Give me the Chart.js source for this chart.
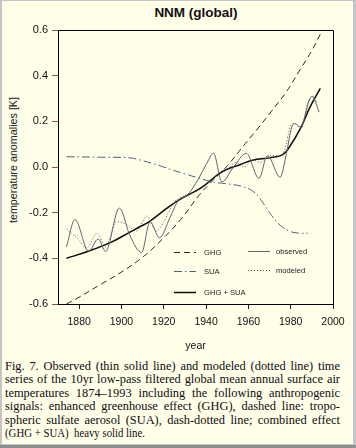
<!DOCTYPE html>
<html><head><meta charset="utf-8">
<script src="https://cdn.jsdelivr.net/npm/chart.js@4.4.1/dist/chart.umd.min.js"></script>
<style>
html,body{margin:0;padding:0;}
body{width:356px;height:448px;background:#8e8e8e;position:relative;overflow:hidden;font-family:"Liberation Sans",Arial,sans-serif;}
#lstrip{position:absolute;left:0;top:0;width:356px;height:445px;background:#c4c4c4;}
#panel{position:absolute;left:2px;top:1px;width:351px;height:443px;background:#fffee9;}
#wrap{position:absolute;left:0;top:0;width:356px;height:356px;}
#title{position:absolute;left:136px;top:4px;width:120px;text-align:center;font-weight:bold;font-size:13.5px;line-height:17px;color:#111;}
#ytitle{position:absolute;left:-87px;top:153px;width:200px;height:14px;line-height:14px;text-align:center;font-size:10.75px;color:#222;transform:rotate(-90deg);}
#caption{position:absolute;left:5px;top:360px;width:340px;font-family:"Liberation Serif","DejaVu Serif",serif;font-size:12.4px;line-height:13.4px;color:#0d0d0d;}
#caption .ln{white-space:nowrap;display:block;transform-origin:0 50%;}
#caption .ln span{display:inline-block;}
</style>
</head><body>
<div id="lstrip"></div>
<div id="panel"></div>
<div id="title">NNM (global)</div>
<div id="ytitle">temperature anomalies [K]</div>
<div id="wrap"><canvas id="c" width="356" height="356"></canvas></div>
<div id="caption">
<div class="ln"><span>Fig. 7. Observed (thin solid line) and modeled (dotted line) time</span></div>
<div class="ln"><span>series of the 10yr low-pass filtered global mean annual surface air</span></div>
<div class="ln"><span>temperatures 1874–1993 including the following anthropogenic</span></div>
<div class="ln"><span>signals: enhanced greenhouse effect (GHG), dashed line: tropo-</span></div>
<div class="ln"><span>spheric sulfate aerosol (SUA), dash-dotted line; combined effect</span></div>
<div class="ln last"><span>(GHG + SUA)&nbsp; heavy solid line.</span></div>
</div>
<script>
// ---- data ----
const X_TICKS = [1880, 1900, 1920, 1940, 1960, 1980, 2000];
const Y_TICKS = [-0.6, -0.4, -0.2, 0.0, 0.2, 0.4, 0.6];

const GHG_YEARS  = [1874, 1880, 1890, 1900, 1910, 1920, 1928, 1937, 1942, 1950, 1957, 1965, 1971, 1978, 1984, 1990, 1995];
const GHG_VALUES = [-0.60, -0.57, -0.515, -0.46, -0.395, -0.31, -0.23, -0.12, -0.07, 0.005, 0.085, 0.175, 0.245, 0.33, 0.42, 0.51, 0.60];

const SUA_YEARS  = [1874, 1890, 1904, 1909, 1916, 1923, 1930, 1936, 1943, 1951, 1957, 1962, 1966, 1970, 1975, 1980, 1985, 1988];
const SUA_VALUES = [0.045, 0.043, 0.04, 0.03, 0.012, -0.01, -0.03, -0.047, -0.065, -0.075, -0.085, -0.105, -0.145, -0.20, -0.255, -0.283, -0.29, -0.29];

const COMB_YEARS  = [1874, 1884, 1895, 1904, 1908, 1913, 1923, 1930, 1937, 1942, 1946, 1950, 1956, 1962, 1970, 1976, 1979, 1985, 1989, 1994];
const COMB_VALUES = [-0.40, -0.37, -0.33, -0.285, -0.265, -0.24, -0.17, -0.13, -0.095, -0.06, -0.03, -0.01, 0.01, 0.03, 0.04, 0.053, 0.082, 0.176, 0.26, 0.344];

const OBS_YEARS  = [1874, 1878, 1884.5, 1889, 1892.5, 1899, 1904, 1909.5, 1913.5, 1918, 1923, 1927, 1931, 1936.5, 1940, 1943.5, 1947.5, 1953, 1959, 1965, 1969, 1975, 1978, 1980.5, 1982, 1984.5, 1990, 1993.5];
const OBS_VALUES = [-0.35, -0.23, -0.37, -0.315, -0.37, -0.18, -0.30, -0.375, -0.24, -0.31, -0.22, -0.145, -0.125, -0.05, 0.01, 0.06, -0.065, 0.0, 0.06, -0.05, 0.05, -0.045, 0.06, 0.175, 0.19, 0.175, 0.31, 0.24];

const MOD_YEARS  = [1874, 1876, 1879, 1883.5, 1888.5, 1892.5, 1897.5, 1902, 1907, 1912, 1916.5, 1920, 1924.5, 1931, 1936, 1942, 1946, 1950, 1954, 1958, 1962, 1966, 1970, 1974, 1977, 1980, 1982, 1985, 1988, 1990.5, 1992.5];
const MOD_VALUES = [-0.27, -0.29, -0.31, -0.355, -0.29, -0.35, -0.24, -0.25, -0.28, -0.215, -0.28, -0.24, -0.16, -0.12, -0.105, -0.06, -0.03, -0.01, 0.02, 0.0, 0.03, 0.02, 0.05, 0.05, 0.07, 0.18, 0.19, 0.17, 0.28, 0.31, 0.28];

const LABELS = {ghg: 'GHG', sua: 'SUA', comb: 'GHG + SUA', obs: 'observed', mod: 'modeled'};

const pts = (xs, ys) => xs.map((x, i) => ({x: x, y: ys[i]}));
const FAMILY = '"Liberation Sans", Arial, sans-serif';

const datasets = [
  {key:'ghg', label: LABELS.ghg, data: pts(GHG_YEARS, GHG_VALUES), borderColor:'#2a2a2a', borderWidth:1, borderDash:[6,4], tension:0.4},
  {key:'sua', label: LABELS.sua, data: pts(SUA_YEARS, SUA_VALUES), borderColor:'#4d5f7e', borderWidth:1, borderDash:[8,3,1.5,3], tension:0.4},
  {key:'obs', label: LABELS.obs, data: pts(OBS_YEARS, OBS_VALUES), borderColor:'#5e6470', borderWidth:1, cubicInterpolationMode:'monotone'},
  {key:'mod', label: LABELS.mod, data: pts(MOD_YEARS, MOD_VALUES), borderColor:'#555', borderWidth:1, borderDash:[1,2], cubicInterpolationMode:'monotone'},
  {key:'comb', label: LABELS.comb, data: pts(COMB_YEARS, COMB_VALUES), borderColor:'#0c0c0c', borderWidth:1.5, tension:0.4}
];

// frame: top and right borders of the plot box
const framePlugin = {
  id: 'frame',
  afterDraw(chart) {
    const {ctx, chartArea: a} = chart;
    ctx.save();
    ctx.strokeStyle = '#000';
    ctx.lineWidth = 1;
    ctx.beginPath();
    ctx.moveTo(a.left, Math.round(a.top) + 0.5);
    ctx.lineTo(Math.round(a.right) + 0.5, Math.round(a.top) + 0.5);
    ctx.lineTo(Math.round(a.right) + 0.5, a.bottom);
    ctx.stroke();
    ctx.restore();
  }
};

// legend inside the plot, lower-right (layout offsets relative to the plot area)
const LEGEND_LAYOUT = [
  {key:'ghg',  x0:116, x1:138, tx:146, dy:222},
  {key:'sua',  x0:116, x1:138, tx:146, dy:240.5},
  {key:'comb', x0:116, x1:138, tx:146, dy:262},
  {key:'obs',  x0:190, x1:212, tx:218, dy:220.5},
  {key:'mod',  x0:190, x1:212, tx:218, dy:239.5}
];
const legendPlugin = {
  id: 'innerLegend',
  afterDraw(chart) {
    const {ctx, chartArea: a} = chart;
    ctx.save();
    LEGEND_LAYOUT.forEach(item => {
      const ds = chart.data.datasets.find(d => d.key === item.key);
      const y = Math.round(a.top + item.dy) + 0.5;
      ctx.strokeStyle = ds.borderColor;
      ctx.lineWidth = ds.borderWidth;
      ctx.setLineDash(ds.borderDash || []);
      ctx.beginPath();
      ctx.moveTo(a.left + item.x0, y);
      ctx.lineTo(a.left + item.x1, y);
      ctx.stroke();
      ctx.setLineDash([]);
      ctx.fillStyle = '#222';
      ctx.font = '7.6px ' + FAMILY;
      ctx.textBaseline = 'middle';
      ctx.textAlign = 'left';
      ctx.fillText(ds.label, a.left + item.tx, y);
    });
    ctx.restore();
  }
};

new Chart(document.getElementById('c'), {
  type: 'line',
  data: {datasets: datasets},
  options: {
    responsive: false,
    animation: false,
    devicePixelRatio: 1,
    layout: {padding: {top: 30, right: 23, left: 0, bottom: 0}},
    plugins: {legend: {display: false}, tooltip: {enabled: false}, title: {display: false}},
    elements: {point: {radius: 0}, line: {fill: false}},
    scales: {
      x: {
        type: 'linear', min: 1870, max: 2000,
        afterBuildTicks: s => { s.ticks = X_TICKS.map(v => ({value: v})); },
        afterFit: s => { s.height = 52; },
        grid: {drawOnChartArea: false, drawTicks: true, tickLength: 5, tickColor: '#222'},
        border: {color: '#000', width: 1},
        ticks: {font: {size: 10.5, family: FAMILY}, color: '#111', padding: 7, maxRotation: 0, autoSkip: false, callback: v => String(v)},
        title: {display: true, text: 'year', font: {size: 10.5, family: FAMILY}, color: '#111', padding: {top: 0, bottom: 4}}
      },
      y: {
        min: -0.6, max: 0.6,
        afterBuildTicks: s => { s.ticks = Y_TICKS.map(v => ({value: v})); },
        afterFit: s => { s.width = 58; },
        grid: {drawOnChartArea: false, drawTicks: true, tickLength: 6, tickColor: '#8a5a3a'},
        border: {color: '#000', width: 1},
        ticks: {font: {size: 11, family: FAMILY}, color: '#111', padding: 4, autoSkip: false, callback: v => Number(v).toFixed(1)}
      }
    }
  },
  plugins: [framePlugin, legendPlugin]
});

// justify caption lines to the column width
const TARGET = 335;
document.querySelectorAll('#caption .ln').forEach(ln => {
  const sp = ln.querySelector('span');
  const w = sp.getBoundingClientRect().width;
  if (ln.classList.contains('last')) {
    if (w > 140) ln.style.transform = 'scaleX(' + (140 / w) + ')';
    return;
  }
  const spaces = (sp.textContent.match(/ /g) || []).length;
  if (w > TARGET) {
    ln.style.transform = 'scaleX(' + (TARGET / w) + ')';
  } else if (spaces) {
    sp.style.wordSpacing = ((TARGET - w) / spaces) + 'px';
  }
});
</script>
</body></html>
